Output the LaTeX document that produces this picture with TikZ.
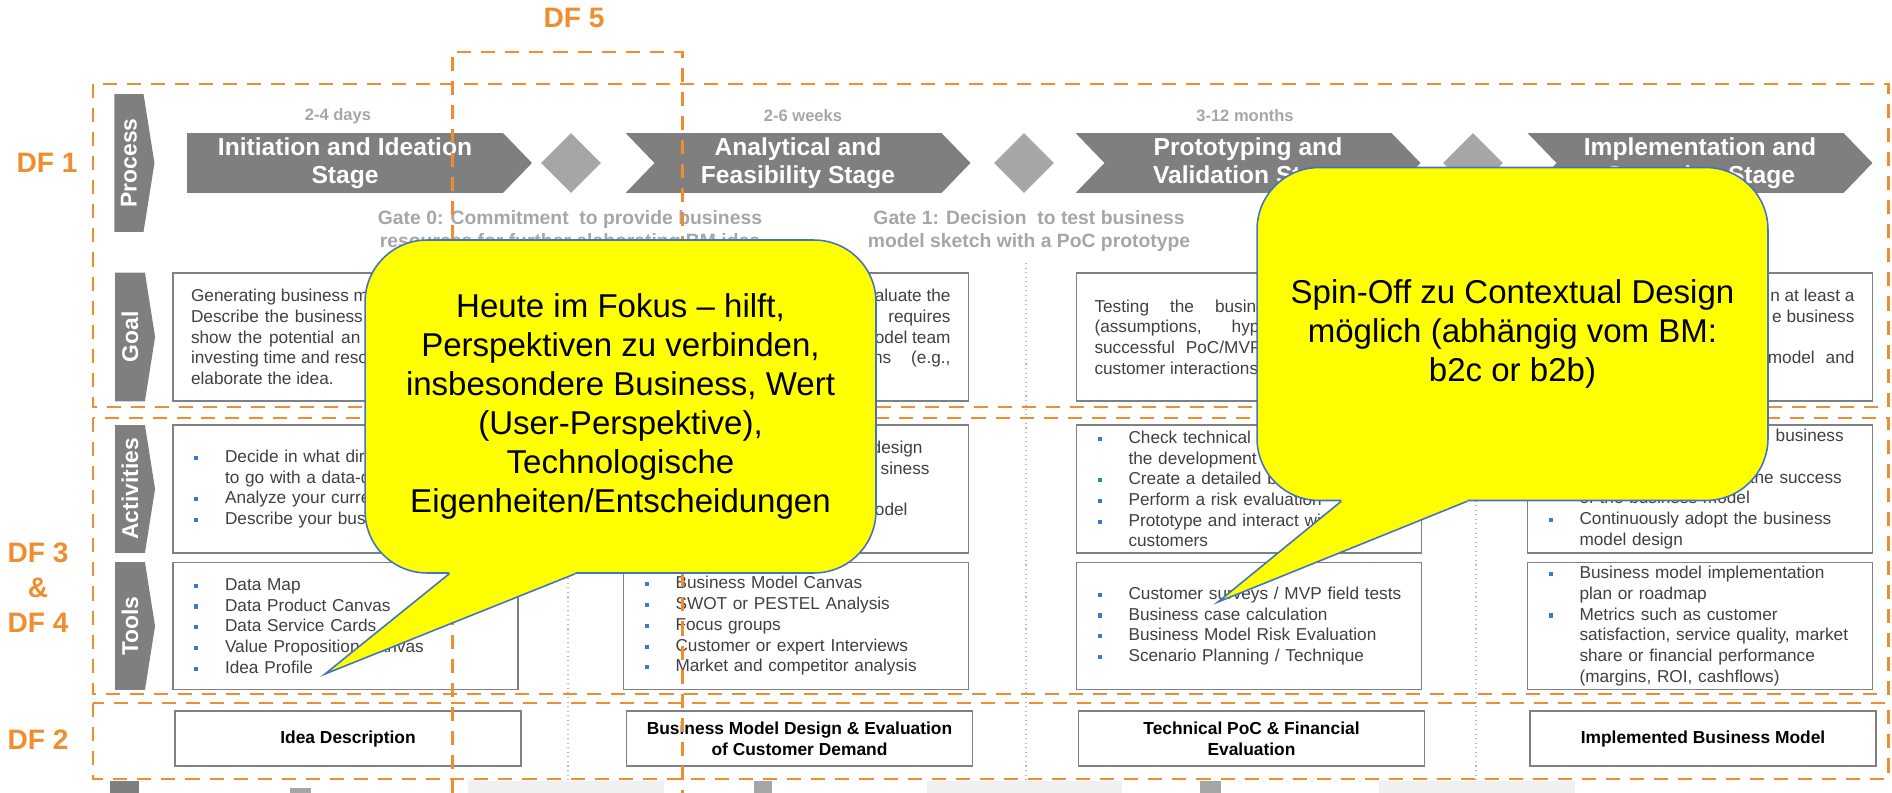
\documentclass[tikz,border=0pt]{standalone}
\usepackage{fontspec}
\setmainfont{Liberation Sans}
\usetikzlibrary{positioning, shapes.geometric, shapes.symbols, calc}

\definecolor{dforange}{RGB}{239,142,48}
\definecolor{chevgrey}{RGB}{127,127,127}
\definecolor{gategrey}{RGB}{166,166,166}
\definecolor{boxgrey}{RGB}{128,128,128}
\definecolor{bodygrey}{RGB}{64,64,64}
\definecolor{bulblue}{RGB}{55,125,200}
\definecolor{callblue}{RGB}{68,114,196}
\definecolor{callyellow}{RGB}{255,255,0}

% list bullets inside the boxes
\newcommand\bdot{\makebox[0.62cm][l]{\textcolor{bulblue}{\rule[0.15em]{2.3pt}{2.3pt}}}}
\newcommand\bgap{\hspace*{0.62cm}}
% pushes the rest of a line to the right
\newcommand\rpush{\hspace*{\fill}}

% tail of a speech bubble: body node #1, tip coordinate #2
\newcommand\calltail[2]{%
  \fill[callyellow] ($(#1.south west)+(85,-4)$) -- ($(#1.south west)+(211,-4)$)
    -- ($(#1.south west)+(211,0)$) -- (#2) -- ($(#1.south west)+(85,0)$) -- cycle;
  \draw[callblue, line width=0.9pt] ($(#1.south west)+(85,0)$) -- (#2) -- ($(#1.south west)+(211,0)$);}

\begin{document}
\begin{tikzpicture}[x=0.02cm, y=-0.02cm,
  dfbox/.style={draw=dforange, line width=1.7pt, dash pattern=on 8pt off 5.7pt},
  dflabel/.style={text=dforange, font=\fontsize{16}{19}\selectfont\bfseries, align=center, inner sep=0pt},
  sepline/.style={draw=gategrey!80, line width=0.6pt, dotted},
  tab/.style={signal, signal to=east, signal pointer angle=162, fill=chevgrey, text=white,
    inner sep=0pt, minimum width=0.8cm, font=\fontsize{13}{15}\selectfont\bfseries},
  stage/.style={signal, signal to=east, signal pointer angle=92, fill=chevgrey, text=white,
    minimum width=6.9cm, minimum height=1.2cm, inner sep=0pt, align=center,
    font=\fontsize{14}{16}\selectfont\bfseries},
  gate/.style={diamond, fill=gategrey, minimum width=1.2cm, minimum height=1.2cm, inner sep=0pt},
  dur/.style={text=gategrey, font=\fontsize{9.4}{11}\selectfont\bfseries},
  gatetxt/.style={text=gategrey, align=center, font=\fontsize{11}{12.9}\selectfont\bfseries},
  pbox/.style={draw=boxgrey, line width=1pt, fill=white, minimum width=6.9cm, inner sep=0pt,
    text=bodygrey, font=\fontsize{9.8}{11.8}\selectfont},
  goalbox/.style={pbox, minimum height=2.56cm, text width=6.18cm, align=justify},
  listbox/.style={pbox, text width=6.06cm, align=left},
  outbox/.style={draw=boxgrey, line width=1pt, minimum width=6.92cm, minimum height=1.1cm,
    inner sep=0pt, align=center, font=\fontsize{9.9}{12}\selectfont\bfseries},
  callbox/.style={draw=callblue, line width=0.9pt, fill=callyellow, rounded corners=1.24cm,
    minimum width=10.22cm, minimum height=6.66cm, inner sep=0pt, align=center,
    font=\fontsize{18.8}{22.1}\selectfont}]

\useasboundingbox (0,0) rectangle (1892,793);

% dotted column separators
\foreach \sx in {568,1026,1476}
  \draw[sepline] (\sx,263) -- (\sx,793);

% row tabs
\node[tab, minimum height=2.76cm] (tabP) at (129,163) {\rotatebox{90}{Process}};
\node[tab, minimum height=2.58cm] (tabG) at (130,337) {\rotatebox{90}{Goal}};
\node[tab, minimum height=2.56cm] (tabA) at (130,489) {\rotatebox{90}{Activities}};
\node[tab, minimum height=2.56cm] (tabT) at (130,626) {\rotatebox{90}{Tools}};

% process: stages and gates
\node[stage] (st1) at (345,163) {Initiation and Ideation\\Stage};
\node[stage, signal from=west] (st2) at (798,163) {Analytical and\\Feasibility Stage};
\node[stage, signal from=west] (st3) at (1248,163) {Prototyping and\\Validation Stage};
\node[stage, signal from=west] (st4) at (1700,163) {Implementation and\\Operation Stage};
\node[gate] (gt0) at (571,163) {};
\node[gate] (gt1) at (1024,163) {};
\node[gate] (gt2) at (1473,163) {};

\node[dur] (du1) at (338,116) {2-4 days};
\node[dur] (du2) at (803,116) {2-6 weeks};
\node[dur] (du3) at (1245,116) {3-12 months};

\node[gatetxt] (gt0txt) at (570,231) {Gate 0: Commitment\ \ to provide business\\resources for further elaborating BM idea};
\node[gatetxt] (gt1txt) at (1029,231) {Gate 1: Decision\ \ to test business\\model sketch with a PoC prototype};

% goals (parts under the bubbles are left out)
\node[goalbox] (goal1) at (345.5,337) {Generating business mo\\
  Describe\hspace{0.12cm}the\hspace{0.12cm}business\\
  show\hspace{0.14cm}the\hspace{0.14cm}potential\hspace{0.14cm}an\\
  investing time and reso\\
  elaborate the idea.};
\node[goalbox] (goal2) at (796,337) {\rpush aluate the\\
  \rpush requires\\
  \rpush odel team\\
  \rpush ns\hspace{0.4cm}(e.g.,\\
  \mbox{}};
\node[goalbox] (goal3) at (1249,337) {Testing\hspace{0.42cm}the\hspace{0.42cm}busine\\
  (assumptions,\hspace{0.6cm}hypo\\
  successful\hspace{0.22cm}PoC/MVP\\
  customer interactions.};
\node[goalbox] (goal4) at (1700,337) {\rpush n at least a\\
  \rpush e business\\
  \mbox{}\\
  \rpush model\hspace{0.22cm}and\\
  \mbox{}};

% activities
\node[listbox, minimum height=2.56cm] (act1) at (345.5,489) {%
  \bdot Decide in what direc\\
  \bgap to go with a data-dr\\
  \bdot Analyze your curre\\
  \bdot Describe your busin};
\node[listbox, minimum height=2.56cm] (act2) at (796,489) {%
  \rpush design\hspace*{0.5cm}\mbox{}\\
  \rpush siness\hspace*{0.36cm}\mbox{}\\
  \mbox{}\\
  \rpush odel\hspace*{0.8cm}\mbox{}\\
  \mbox{}};
\node[listbox, minimum height=2.56cm] (act3) at (1249,489) {%
  \bdot Check technical feasibility of\\
  \bgap the development effort\\
  \bdot Create a detailed business plan\\
  \bdot Perform a risk evaluation\\
  \bdot Prototype and interact with\\
  \bgap customers};
\node[listbox, minimum height=2.56cm] (act4) at (1700,489) {%
  \bdot Implement and scale the business\\
  \bgap model\\
  \bdot Measure and monitor the success\\
  \bgap of the business model\\
  \bdot Continuously adopt the business\\
  \bgap model design};

% tools
\node[listbox, minimum height=2.54cm] (tool1) at (345.5,626) {%
  \bdot Data Map\\
  \bdot Data Product Canvas\\
  \bdot Data Service Cards\\
  \bdot Value Proposition Canvas\\
  \bdot Idea Profile};
\node[listbox, minimum height=2.54cm] (tool2) at (796,626) {%
  \bdot Business Model Canvas\\
  \bdot SWOT or PESTEL Analysis\\
  \bdot Focus groups\\
  \bdot Customer or expert Interviews\\
  \bdot Market and competitor analysis};
\node[listbox, minimum height=2.54cm] (tool3) at (1249,626) {%
  \bdot \mbox{Customer surveys / MVP field tests}\\
  \bdot Business case calculation\\
  \bdot Business Model Risk Evaluation\\
  \bdot Scenario Planning / Technique};
\node[listbox, minimum height=2.54cm] (tool4) at (1700,626) {%
  \bdot Business model implementation\\
  \bgap plan or roadmap\\
  \bdot Metrics such as customer\\
  \bgap \mbox{satisfaction, service quality, market}\\
  \bgap share or financial performance\\
  \bgap (margins, ROI, cashflows)};

% outputs
\node[outbox] (out1) at (348,738.5) {Idea Description};
\node[outbox] (out2) at (799.5,738.5) {Business Model Design \& Evaluation\\of Customer Demand};
\node[outbox] (out3) at (1251.5,738.5) {Technical PoC \& Financial\\Evaluation};
\node[outbox] (out4) at (1703,738.5) {Implemented Business Model};

% next row, cut off at the bottom
\fill[chevgrey] (110,781) rectangle (139,793);
\fill[gategrey] (290,788) rectangle (311,793);
\fill[gategrey] (754,781) rectangle (772,793);
\fill[gategrey] (1200,781) rectangle (1221,793);
\fill[gray!12] (468,781) rectangle (664,793);
\fill[gray!12] (927,781) rectangle (1122,793);
\fill[gray!12] (1379,781) rectangle (1575,793);

% design fields
\draw[dfbox] (93,84) rectangle (1888,407);
\draw[dfbox] (93,418) rectangle (1888,694);
\draw[dfbox] (93,703) rectangle (1888,779);
\draw[dfbox] (452,793) |- (682,52) -- (682,793);

\node[dflabel] (df5) at (574,18) {DF 5};
\node[dflabel] (df1) at (47,163) {DF 1};
\node[dflabel] (df34) at (38,588) {DF 3\\[1pt]\&\\[1pt]DF 4};
\node[dflabel] (df2) at (38,740) {DF 2};

% speech bubbles
\node[callbox] (cal1) at (620.5,406.5) {Heute im Fokus -- hilft,\\Perspektiven zu verbinden,\\insbesondere Business, Wert\\(User-Perspektive),\\Technologische\\Eigenheiten/Entscheidungen};
\coordinate (tip1) at (325,674);
\calltail{cal1}{tip1}

\node[callbox] (cal2) at (1512.5,334) {Spin-Off zu Contextual Design\\möglich (abhängig vom BM:\\b2c or b2b)};
\coordinate (tip2) at (1218,602);
\calltail{cal2}{tip2}

\end{tikzpicture}
\end{document}
